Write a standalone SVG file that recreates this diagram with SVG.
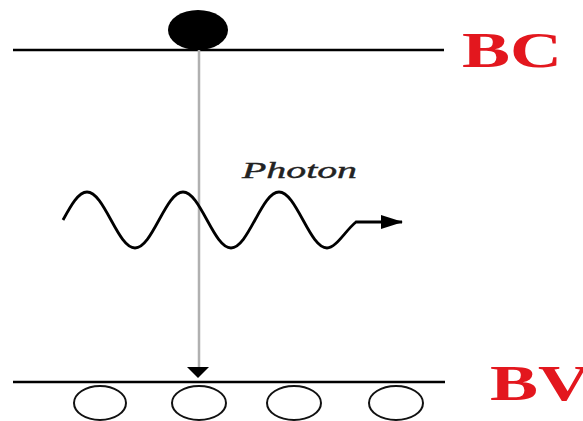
<svg xmlns="http://www.w3.org/2000/svg" width="583" height="421" viewBox="0 0 583 421">
  <style>
    .band { stroke: #000; stroke-width: 2.5; fill: none; }
    .hole { fill: #fff; stroke: #111; stroke-width: 2; }
    .lbl { font-family: "Liberation Serif", "Times New Roman", serif; font-weight: bold; font-size: 50px; fill: #e3171e; }
    .ph { font-family: "Liberation Serif", "Times New Roman", serif; font-style: italic; font-size: 24px; fill: #222; stroke: #222; stroke-width: 0.4; }
  </style>
  <defs>
    <marker id="ah" markerWidth="22" markerHeight="14" refX="21" refY="7" orient="auto" markerUnits="userSpaceOnUse">
      <path d="M0,0 L22,7 L0,14 Z" fill="#000"/>
    </marker>
  </defs>
  <rect width="583" height="421" fill="#fff"/>

  <g id="bc-band">
    <line class="band" x1="13" y1="50" x2="444" y2="50"/>
    <text class="lbl" x="462" y="67" textLength="100" lengthAdjust="spacingAndGlyphs">BC</text>
  </g>

  <g id="bv-band">
    <line class="band" x1="13" y1="382" x2="445" y2="382"/>
    <text class="lbl" x="490" y="400" textLength="100" lengthAdjust="spacingAndGlyphs">BV</text>
  </g>

  <g id="connectors">
    <line x1="199" y1="50" x2="199" y2="368" stroke="#b0b0b0" stroke-width="2.5"/>
    <path d="M187,367 L209,367 L198,378 Z" fill="#000"/>
  </g>

  <g id="photon">
    <path d="M63,220 C70.83,205.66 78.31,192 87,192 S103.17,205.66 111,220 S126.31,248 135,248 S151.17,234.34 159,220 S174.31,192 183,192 S199.17,205.66 207,220 S222.31,248 231,248 S247.17,234.34 255,220 S270.31,192 279,192 S295.17,205.66 303,220 S318.31,248 327,248 C336,248 345,231 356,222 L402,222" fill="none" stroke="#000" stroke-width="2.8" marker-end="url(#ah)"/>
    <text class="ph" x="242" y="178" textLength="115" lengthAdjust="spacingAndGlyphs">Photon</text>
  </g>

  <g id="electron">
    <ellipse cx="198" cy="30" rx="30" ry="20" fill="#000"/>
  </g>

  <g id="holes">
    <ellipse class="hole" cx="100" cy="403" rx="26" ry="17"/>
    <ellipse class="hole" cx="199" cy="403" rx="27" ry="17"/>
    <ellipse class="hole" cx="294" cy="403" rx="27" ry="17"/>
    <ellipse class="hole" cx="396" cy="403" rx="27" ry="17"/>
  </g>
</svg>
